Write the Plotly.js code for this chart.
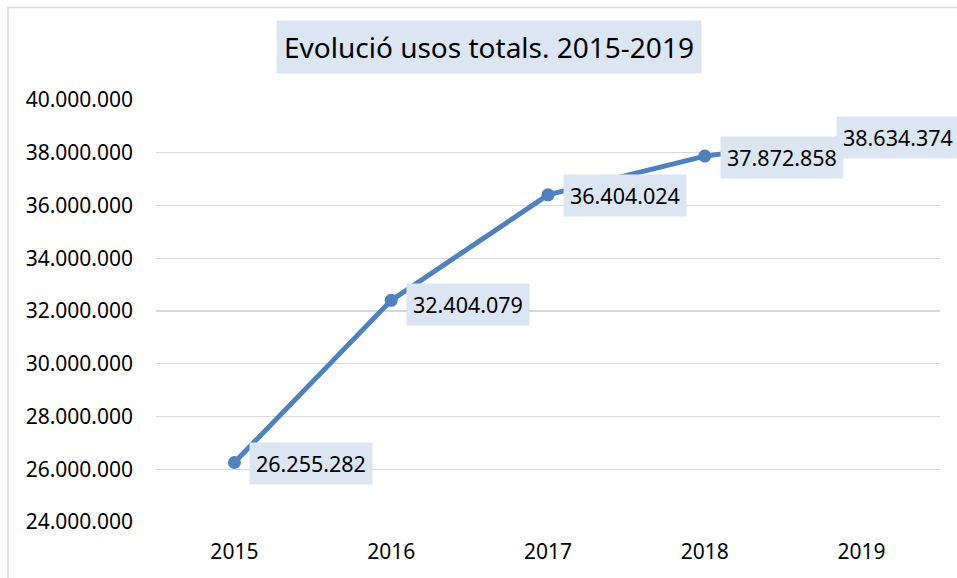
<!DOCTYPE html>
<html>
<head>
<meta charset="utf-8">
<script src="https://cdn.plot.ly/plotly-3.0.1.min.js"></script>
<style>html,body{margin:0;padding:0;background:#fff;}#chart{width:957px;height:578px;}</style>
</head>
<body>
<div id="chart"></div>
<script>
const years = ['2015', '2016', '2017', '2018', '2019'];
const usos = [26255282, 32404079, 36404024, 37872858, 38634374];
const yTicks = [24000000, 26000000, 28000000, 30000000, 32000000, 34000000, 36000000, 38000000, 40000000];
const titleText = 'Evolució usos totals. 2015-2019';

function fmt(v) {
  return String(v).replace(/\B(?=(\d{3})+(?!\d))/g, '.');
}

const FONT = 'Noto Sans, sans-serif';
const lineColor = '#4f81bd';
const boxColor = '#dce6f2';

const annotations = years.map((y, i) => ({
  x: i, y: usos[i], xref: 'x', yref: 'y',
  text: fmt(usos[i]), showarrow: false,
  xanchor: 'left', yanchor: 'middle',
  xshift: i === years.length - 1 ? -26 : 15,
  yshift: i === 1 ? -4 : -1,
  bgcolor: boxColor, borderpad: 6,
  font: {family: FONT, size: 21.5, color: '#000'}
}));
annotations.push({
  xref: 'paper', yref: 'paper', x: (489 - 156) / 784, y: (522 - 47) / 422,
  xanchor: 'center', yanchor: 'middle', showarrow: false,
  text: titleText, bgcolor: boxColor, borderpad: 7,
  font: {family: FONT, size: 28, color: '#000'}
});

const data = [{
  type: 'scatter', mode: 'lines+markers',
  x: years, y: usos,
  line: {color: lineColor, width: 5},
  marker: {color: lineColor, size: 13},
  hoverinfo: 'skip'
}];

const layout = {
  width: 957, height: 578,
  margin: {l: 156, r: 17, t: 100, b: 56},
  paper_bgcolor: '#fff', plot_bgcolor: '#fff',
  showlegend: false,
  font: {family: FONT, color: '#000'},
  xaxis: {
    type: 'category', range: [-0.5, 4.5],
    showgrid: false, zeroline: false, showline: false,
    ticks: '', tickfont: {family: FONT, size: 21, color: '#000'},
    ticklabelstandoff: 15, fixedrange: true
  },
  yaxis: {
    range: [24000000, 40000000],
    tickvals: yTicks, ticktext: yTicks.map(fmt),
    showgrid: true, gridcolor: '#d9d9d9', gridwidth: 1.3,
    zeroline: false, showline: false, ticks: '',
    tickfont: {family: FONT, size: 21, color: '#000'},
    ticklabelstandoff: 22, fixedrange: true
  },
  shapes: [{
    type: 'rect', xref: 'paper', yref: 'paper',
    x0: (8 - 156) / 784, x1: 1.2, y0: -0.3, y1: (522 - 7.5) / 422,
    line: {color: '#d9d9d9', width: 1.5}, fillcolor: 'rgba(0,0,0,0)', layer: 'below'
  }],
  annotations: annotations
};

Plotly.newPlot('chart', data, layout, {displayModeBar: false, staticPlot: true});
</script>
</body>
</html>
